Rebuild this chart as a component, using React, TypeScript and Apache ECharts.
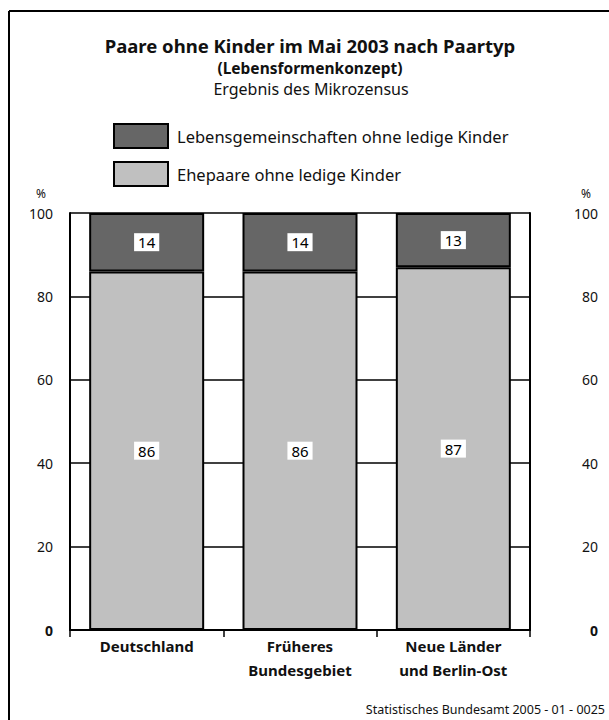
import React, { useEffect, useRef } from "react";
import * as echarts from "echarts";

const categories = ["Deutschland", "Früheres\nBundesgebiet", "Neue Länder\nund Berlin-Ost"];
const ehepaare = [86, 86, 87];
const lebensgemeinschaften = [14, 14, 13];
const yTicks = [0, 20, 40, 60, 80, 100];
const seriesNames = ["Lebensgemeinschaften ohne ledige Kinder", "Ehepaare ohne ledige Kinder"];
const titleLines = ["Paare ohne Kinder im Mai 2003 nach Paartyp", "(Lebensformenkonzept)", "Ergebnis des Mikrozensus"];
const sourceNote = "Statistisches Bundesamt 2005 - 01 - 0025";

const FONT = "Noto Sans";

export default function App() {
  const ref = useRef<HTMLDivElement>(null);
  useEffect(() => {
    const chart = echarts.init(ref.current!, null, { renderer: "svg" });
    const yLabel = (v: number) => (v === 0 ? "{b|0}" : String(v));
    const labelCommon = {
      show: true,
      position: "inside",
      color: "#000",
      backgroundColor: "#fff",
      padding: [2, 4, 1, 4],
      fontSize: 15,
      fontFamily: FONT,
    };
    chart.setOption({
      animation: false,
      textStyle: { fontFamily: FONT },
      legend: {
        orient: "vertical",
        left: 113,
        top: 123,
        padding: 0,
        icon: "rect",
        itemWidth: 54,
        itemHeight: 24,
        itemGap: 12,
        data: seriesNames,
        textStyle: { fontSize: 16.5, color: "#111", fontFamily: FONT, padding: [0, 0, 0, 4] },
      },
      grid: { left: 70, right: 79, top: 213, bottom: 90 },
      xAxis: {
        type: "category",
        data: categories,
        axisLine: { lineStyle: { color: "#000", width: 2 } },
        axisTick: { show: true, length: 7, lineStyle: { color: "#000", width: 1.5 } },
        axisLabel: {
          color: "#111",
          fontSize: 15,
          fontWeight: "bold",
          lineHeight: 24,
          margin: 4,
          fontFamily: FONT,
        },
      },
      yAxis: [
        {
          type: "value",
          min: yTicks[0],
          max: yTicks[yTicks.length - 1],
          interval: 20,
          position: "left",
          axisLine: { show: true, lineStyle: { color: "#000", width: 2 } },
          axisTick: { show: false },
          splitLine: { show: true, lineStyle: { color: "#000", width: 1.5 } },
          axisLabel: {
            formatter: yLabel,
            color: "#111",
            fontSize: 14,
            margin: 17,
            fontFamily: FONT,
            rich: { b: { fontWeight: "bold", fontSize: 14, color: "#111", fontFamily: FONT } },
          },
        },
        {
          type: "value",
          min: yTicks[0],
          max: yTicks[yTicks.length - 1],
          interval: 20,
          position: "right",
          axisLine: { show: true, lineStyle: { color: "#000", width: 2 } },
          axisTick: { show: false },
          splitLine: { show: false },
          axisLabel: {
            formatter: yLabel,
            color: "#111",
            fontSize: 14,
            margin: 68,
            align: "right",
            fontFamily: FONT,
            rich: { b: { fontWeight: "bold", fontSize: 14, color: "#111", fontFamily: FONT } },
          },
        },
      ],
      series: [
        {
          name: seriesNames[1],
          type: "bar",
          stack: "total",
          data: ehepaare,
          barCategoryGap: "25%",
          itemStyle: { color: "#c0c0c0", borderColor: "#000", borderWidth: 2 },
          label: labelCommon,
        },
        {
          name: seriesNames[0],
          type: "bar",
          stack: "total",
          data: lebensgemeinschaften,
          barCategoryGap: "25%",
          itemStyle: { color: "#666666", borderColor: "#000", borderWidth: 2 },
          label: labelCommon,
        },
      ],
      graphic: [
        { type: "line", shape: { x1: 9, y1: 11, x2: 609, y2: 11 }, style: { stroke: "#000", lineWidth: 2 } },
        { type: "line", shape: { x1: 9, y1: 11, x2: 9, y2: 720 }, style: { stroke: "#000", lineWidth: 2 } },
        {
          type: "text",
          x: 310,
          y: 45,
          style: {
            text: titleLines[0],
            fontSize: 18.5,
            fontWeight: "bold",
            fill: "#111",
            fontFamily: FONT,
            textAlign: "center",
            textVerticalAlign: "middle",
          },
        },
        {
          type: "text",
          x: 310,
          y: 68,
          style: {
            text: titleLines[1],
            fontSize: 15.5,
            fontWeight: "bold",
            fill: "#111",
            fontFamily: FONT,
            textAlign: "center",
            textVerticalAlign: "middle",
          },
        },
        {
          type: "text",
          x: 311,
          y: 89,
          style: {
            text: titleLines[2],
            fontSize: 16,
            fill: "#111",
            fontFamily: FONT,
            textAlign: "center",
            textVerticalAlign: "middle",
          },
        },
        { type: "text", left: 36, top: 187, style: { text: "%", fontSize: 12, fill: "#111", fontFamily: FONT } },
        { type: "text", left: 581, top: 187, style: { text: "%", fontSize: 12, fill: "#111", fontFamily: FONT } },
        {
          type: "text",
          right: 4,
          top: 703,
          style: { text: sourceNote, fontSize: 12.5, fill: "#111", fontFamily: FONT },
        },
      ],
    });
    return () => chart.dispose();
  }, []);
  return (
    <div
      ref={ref}
      style={{ position: "fixed", left: 0, top: 0, width: 609, height: 720, background: "#fff" }}
    />
  );
}
